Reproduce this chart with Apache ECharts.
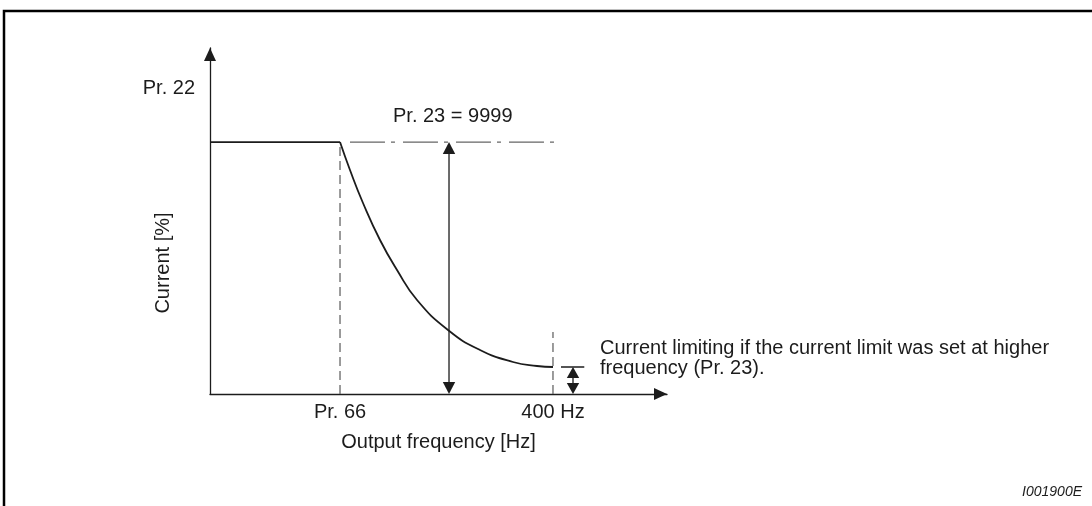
<!DOCTYPE html>
<html>
<head>
<meta charset="utf-8">
<script src="https://cdn.jsdelivr.net/npm/echarts@6/dist/echarts.min.js"></script>
<style>
html,body{margin:0;padding:0;background:#fff;}
#chart{width:1092px;height:506px;}
</style>
</head>
<body>
<div id="chart"></div>
<script>
// ---- data (axis units: x = % of frequency axis, y = % of current axis) ----
const xTickValues = [28.45, 75.05];
const xTickLabels = ['Pr. 66', '400 Hz'];
const yTickValues = [88.4];
const yTickLabels = ['Pr. 22'];
const xAxisName = 'Output frequency [Hz]';
const yAxisName = 'Current [%]';

const flatX = [0, 28.45];
const flatY = [72.8, 72.8];

const curveX = [28.45, 30.63, 33.48, 37.20, 40.92, 45.30, 52.08, 59.08, 66.30, 71.55, 75.05];
const curveY = [72.83, 64.74, 55.20, 44.51, 35.84, 27.17, 18.50, 12.72, 9.25, 8.09, 7.80];

const pr66LineX = [28.45, 28.45];
const pr66LineY = [0, 72.8];
const hz400LineX = [75.05, 75.05];
const hz400LineY = [0, 17.9];
const pr23LineX = [30.63, 75.9];
const pr23LineY = [72.8, 72.8];
const limitTickX = [76.8, 81.9];
const limitTickY = [7.8, 7.8];

const arrowX = [52.3, 79.43];
const arrowFrom = [0, 0];
const arrowTo = [72.8, 7.8];

const noteX = [40.04, 85.34];
const noteY = [80.35, 10.4];
const noteText = ['Pr. 23 = 9999', 'Current limiting if the current limit was set at higher\nfrequency (Pr. 23).'];
const figureId = 'I001900E';

const zip = (a, b) => a.map((v, i) => [v, b[i]]);
const FONT = '"Liberation Sans", Arial, Helvetica, sans-serif';
const INK = '#1c1c1c';

const chart = echarts.init(document.getElementById('chart'), null, {renderer: 'canvas'});
chart.setOption({
  animation: false,
  backgroundColor: '#fff',
  textStyle: {fontFamily: FONT, color: INK},
  grid: {left: 210, top: 48, width: 457, height: 346, containLabel: false},
  xAxis: {
    type: 'value', min: 0, max: 100,
    splitLine: {show: false},
    axisTick: {show: false},
    axisLine: {show: true, lineStyle: {color: INK, width: 1.3},
      symbol: ['none', 'triangle'], symbolSize: [12, 13], symbolOffset: [0, -6.5]},
    axisLabel: {customValues: xTickValues, margin: 8, fontSize: 20, color: INK, fontFamily: FONT,
      formatter: v => { const i = xTickValues.findIndex(t => Math.abs(t - v) < 1e-6); return i >= 0 ? xTickLabels[i] : ''; }},
    name: xAxisName, nameLocation: 'middle', nameGap: 38,
    nameTextStyle: {fontSize: 20, color: INK, fontFamily: FONT}
  },
  yAxis: {
    type: 'value', min: 0, max: 100,
    splitLine: {show: false},
    axisTick: {show: false},
    axisLine: {show: true, lineStyle: {color: INK, width: 1.3},
      symbol: ['none', 'triangle'], symbolSize: [12, 13], symbolOffset: [0, -6.5]},
    axisLabel: {customValues: yTickValues, margin: 15, fontSize: 20, color: INK, fontFamily: FONT,
      formatter: v => { const i = yTickValues.findIndex(t => Math.abs(t - v) < 1e-6); return i >= 0 ? yTickLabels[i] : ''; }}
  },
  graphic: [
    {type: 'polyline', silent: true, shape: {points: [[4, 506], [4, 11], [1092, 11]]},
      style: {stroke: '#000', lineWidth: 2.5, fill: null}},
    {type: 'text', x: 163, y: 263, rotation: Math.PI / 2,
      style: {text: yAxisName, font: '20px ' + FONT, fill: INK, align: 'center', verticalAlign: 'middle'}},
    {type: 'text', right: 10, top: 485,
      style: {text: figureId, font: 'italic 14px ' + FONT, fill: INK}}
  ],
  series: [
    {type: 'line', data: zip(flatX, flatY), symbol: 'none', lineStyle: {color: INK, width: 1.8}},
    {type: 'line', data: zip(curveX, curveY), symbol: 'none', smooth: 0.5, lineStyle: {color: INK, width: 1.8}},
    {type: 'line', data: zip(pr66LineX, pr66LineY), symbol: 'none', lineStyle: {color: '#666', width: 1.3, type: [9, 5]}},
    {type: 'line', data: zip(hz400LineX, hz400LineY), symbol: 'none', lineStyle: {color: '#666', width: 1.3, type: [9, 5]}},
    {type: 'line', data: zip(pr23LineX, pr23LineY), symbol: 'none', lineStyle: {color: '#666', width: 1.3, type: [35, 6, 4, 8]}},
    {type: 'line', data: zip(limitTickX, limitTickY), symbol: 'none', lineStyle: {color: INK, width: 1.3}},
    {
      type: 'custom',
      data: arrowX.map((x, i) => [x, arrowFrom[i], arrowTo[i]]),
      renderItem: function (params, api) {
        const x = api.value(0);
        const pLo = api.coord([x, api.value(1)]);
        const pHi = api.coord([x, api.value(2)]);
        const len = pLo[1] - pHi[1];
        const hh = len > 60 ? 12 : 11;
        const hw = 6.2;
        return {
          type: 'group',
          children: [
            {type: 'line', shape: {x1: pHi[0], y1: pHi[1] + hh - 1, x2: pLo[0], y2: pLo[1] - hh + 1},
              style: {stroke: INK, lineWidth: 1.3}},
            {type: 'polygon', shape: {points: [[pHi[0], pHi[1]], [pHi[0] - hw, pHi[1] + hh], [pHi[0] + hw, pHi[1] + hh]]},
              style: {fill: INK}},
            {type: 'polygon', shape: {points: [[pLo[0], pLo[1]], [pLo[0] - hw, pLo[1] - hh], [pLo[0] + hw, pLo[1] - hh]]},
              style: {fill: INK}}
          ]
        };
      }
    },
    {
      type: 'scatter', symbolSize: 0, silent: true,
      itemStyle: {opacity: 1},
      data: noteX.map((x, i) => ({value: [x, noteY[i]], label: {formatter: noteText[i]}})),
      label: {show: true, position: 'right', distance: 0, fontSize: 20, lineHeight: 20, color: INK, fontFamily: FONT, align: 'left', opacity: 1}
    }
  ]
});
</script>
</body>
</html>
